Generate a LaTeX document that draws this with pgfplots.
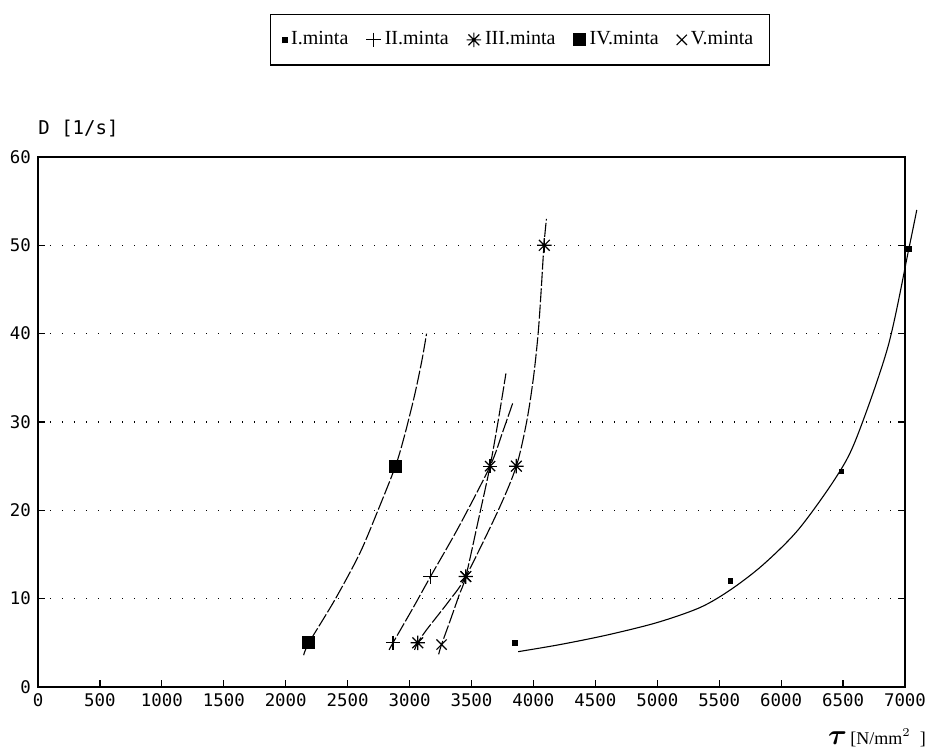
\documentclass[border=0pt]{standalone}
\usepackage{pgfplots}
\pgfplotsset{compat=1.18}
\usepackage{fontspec}
\usepackage{bm}
\setmainfont{Liberation Serif}
\newfontfamily\monof{DejaVu Sans Mono}

% 8-armed asterisk (plus + cross)
\pgfdeclareplotmark{ast8}{%
  \pgfpathmoveto{\pgfqpoint{-\pgfplotmarksize}{0pt}}%
  \pgfpathlineto{\pgfqpoint{\pgfplotmarksize}{0pt}}%
  \pgfpathmoveto{\pgfqpoint{0pt}{-\pgfplotmarksize}}%
  \pgfpathlineto{\pgfqpoint{0pt}{\pgfplotmarksize}}%
  \pgfpathmoveto{\pgfqpoint{-0.75\pgfplotmarksize}{-0.75\pgfplotmarksize}}%
  \pgfpathlineto{\pgfqpoint{0.75\pgfplotmarksize}{0.75\pgfplotmarksize}}%
  \pgfpathmoveto{\pgfqpoint{-0.75\pgfplotmarksize}{0.75\pgfplotmarksize}}%
  \pgfpathlineto{\pgfqpoint{0.75\pgfplotmarksize}{-0.75\pgfplotmarksize}}%
  \pgfusepathqstroke}

\begin{document}
\begin{tikzpicture}
\begin{axis}[
  name=ax,
  scale only axis,
  width=433.5pt, height=265pt,
  xmin=0, xmax=7000, ymin=0, ymax=60,
  xtick={0,500,...,7000}, ytick={0,10,...,60},
  xtick pos=left, ytick pos=both,
  tick align=inside,
  major tick length=3.5pt,
  axis line style={line width=0.7pt},
  tick style={black, line width=0.6pt},
  ymajorgrids,
  grid style={black, line width=0.7pt, dash pattern=on 0.7pt off 5.3pt},
  /pgf/number format/1000 sep={},
  /pgf/number format/assume math mode=true,
  ticklabel style={font=\monof\fontsize{8.7}{10}\selectfont},
  clip=false,
  legend columns=-1,
  legend style={at={(0.556,1.221)}, anchor=center, draw=black,
    line width=0.6pt, inner xsep=6pt, inner ysep=6.5pt,
    font=\fontsize{10}{12}\selectfont,
    /tikz/every even column/.append style={column sep=7pt}},
  legend image code/.code={\draw[mark repeat=2,mark phase=2] plot coordinates {(0cm,0cm) (0.18cm,0cm) (0.36cm,0cm)};},
]
% fitted curves
\addplot[forget plot, black, line width=0.55pt, smooth] coordinates {
  (3877,4.0) (4214,4.8) (4600,5.9) (5000,7.3) (5346,9.0) (5591,11.0)
  (5851,13.8) (6138,17.8) (6437,23.6) (6603,28.0) (6862,38.5) (7031,49.6) (7095,54)};
\addplot[forget plot, black, line width=0.55pt, smooth, dash pattern=on 7pt off 1.2pt] coordinates {
  (2835,4.2) (2866,5) (3030,9) (3169,12.5) (3400,18.2) (3650,25) (3750,28.8) (3837,32.3)};
\addplot[forget plot, black, line width=0.55pt, smooth, dash pattern=on 7pt off 1.2pt] coordinates {
  (3040,4.2) (3066,5) (3136,6.45) (3325,9.85) (3454,12.5) (3716,20) (3862,25)
  (3945,30) (4000,35) (4038,40) (4063,45) (4085,50) (4105,53)};
\addplot[forget plot, black, line width=0.55pt, smooth, dash pattern=on 7pt off 1.2pt] coordinates {
  (2145,3.6) (2187,5) (2396,9.85) (2597,15.1) (2745,20) (2886,25) (2960,28.5)
  (3040,33) (3100,37) (3137,40)};
\addplot[forget plot, black, line width=0.55pt, smooth, dash pattern=on 7pt off 1.2pt] coordinates {
  (3235,3.7) (3258,4.8) (3330,7.6) (3400,10.4) (3454,12.5) (3554,18.8)
  (3650,25) (3720,30.5) (3778,35.5)};
% measured points
\addplot[only marks, mark=square*, mark size=1.1pt, black] coordinates {
  (3850,5) (5591,12) (6487,24.4) (7031,49.6)};
\addlegendentry{I.minta}
\addplot[only marks, mark=+, mark size=3.6pt, black, line width=0.6pt] coordinates {
  (2866,5) (3169,12.5) (3650,25)};
\addlegendentry{II.minta}
\addplot[only marks, mark=ast8, mark size=3.6pt, black, line width=0.6pt] coordinates {
  (3066,5) (3454,12.5) (3862,25) (4088,50)};
\addlegendentry{III.minta}
\addplot[only marks, mark=square*, mark size=3pt, black] coordinates {
  (2187,5) (2886,25)};
\addlegendentry{IV.minta}
\addplot[only marks, mark=x, mark size=3.6pt, black, line width=0.6pt] coordinates {
  (3258,4.8) (3454,12.5) (3650,25)};
\addlegendentry{V.minta}
% axis titles
\node[anchor=west, inner sep=0pt, font=\monof\fontsize{9.5}{11}\selectfont]
  at (rel axis cs:0,1) [yshift=14pt] {D [1/s]};
\node[anchor=west, inner sep=0pt] at (rel axis cs:0.911,0) [yshift=-25.5pt]
  {{\Large$\bm{\tau}$}\,{\fontsize{9}{11}\selectfont[N/mm$^2$\ \ ]}};
\end{axis}
\pgfresetboundingbox
\path (-19pt,-33pt) rectangle (447.5pt,343.5pt);
\end{tikzpicture}
\end{document}
